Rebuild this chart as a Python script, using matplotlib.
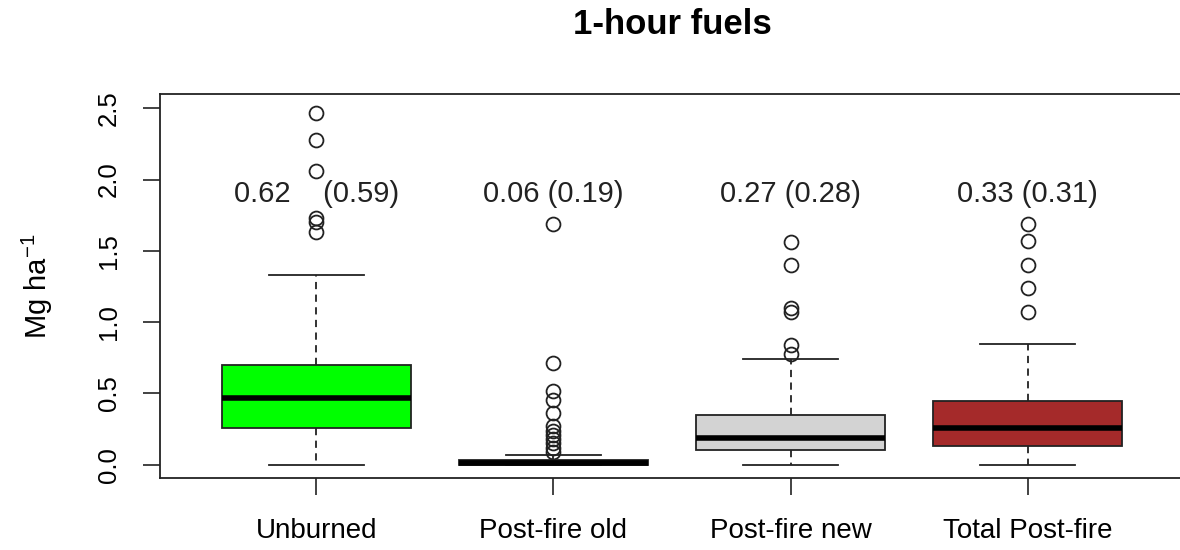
import matplotlib
matplotlib.use("Agg")
import matplotlib.pyplot as plt

plt.rcParams['font.family'] = ['Liberation Sans', 'DejaVu Sans']
plt.rcParams['mathtext.fontset'] = 'custom'
plt.rcParams['mathtext.rm'] = 'Liberation Sans'
plt.rcParams['mathtext.default'] = 'regular'

# fuel load groups
groups = ['Unburned', 'Post-fire old', 'Post-fire new', 'Total Post-fire']
colors = ['#00FF00', '#000000', '#D3D3D3', '#A52A2A']

# box statistics (Mg/ha)
q1 = [0.26, 0.00, 0.10, 0.13]
med = [0.47, 0.01, 0.19, 0.26]
q3 = [0.70, 0.03, 0.35, 0.45]
whislo = [0.0, 0.0, 0.0, 0.0]
whishi = [1.33, 0.065, 0.745, 0.845]
fliers = [
    [2.47, 2.28, 2.06, 1.73, 1.70, 1.63],
    [1.69, 0.71, 0.52, 0.455, 0.36, 0.27, 0.24, 0.21, 0.18, 0.15, 0.12, 0.09],
    [1.56, 1.40, 1.10, 1.07, 0.84, 0.78],
    [1.69, 1.57, 1.40, 1.24, 1.07],
]

# mean (sd) text above each box
labels = ['0.62    (0.59)', '0.06 (0.19)', '0.27 (0.28)', '0.33 (0.31)']

stats = []
for i in range(len(groups)):
    stats.append({'label': groups[i], 'q1': q1[i], 'med': med[i], 'q3': q3[i],
                  'whislo': whislo[i], 'whishi': whishi[i], 'fliers': fliers[i]})

fig = plt.figure(figsize=(11.8, 5.5), dpi=100)
# plot region runs past the right edge of the page
ax = fig.add_axes([160/1180, 1 - 478/550, 1024/1180, 384/550])

pos = [1, 2, 3, 4]
bp = ax.bxp(stats, positions=pos, widths=0.8, capwidths=0.4, patch_artist=True,
            boxprops=dict(edgecolor='#222222', linewidth=1.3),
            medianprops=dict(color='black', linewidth=4, solid_capstyle='butt'),
            whiskerprops=dict(color='#222222', linewidth=1.3, linestyle=(0, (4, 3))),
            capprops=dict(color='#222222', linewidth=1.3),
            flierprops=dict(marker='o', markersize=10, markerfacecolor='none',
                            markeredgecolor='#222222', markeredgewidth=1.3))
for patch, c in zip(bp['boxes'], colors):
    patch.set_facecolor(c)

for p, t in zip(pos, labels):
    ax.text(p, 1.9, t, ha='center', va='center', fontsize=21, color='#222222')

ax.set_xlim(0.34, 4.66)
ax.set_ylim(-0.093, 2.6)
ax.set_xticks(pos)
ax.set_xticklabels(groups, fontsize=20)
ax.set_yticks([0.0, 0.5, 1.0, 1.5, 2.0, 2.5])
ax.set_yticklabels(['0.0', '0.5', '1.0', '1.5', '2.0', '2.5'], rotation=90,
                   va='center', fontsize=18.5)
ax.tick_params(axis='both', length=12, width=1.2, color='#222222')
ax.tick_params(axis='x', pad=17)
ax.tick_params(axis='y', pad=16)
for s in ax.spines.values():
    s.set_linewidth(1.3)
    s.set_color('#222222')
ax.spines['right'].set_visible(False)

ax.set_ylabel(r'Mg ha$^{-1}$', fontsize=21, labelpad=30)
fig.text(672/1180, 1 - 25/550, '1-hour fuels', ha='center', va='center',
         fontsize=25, fontweight='bold')

fig.savefig('out.png', dpi=100)
